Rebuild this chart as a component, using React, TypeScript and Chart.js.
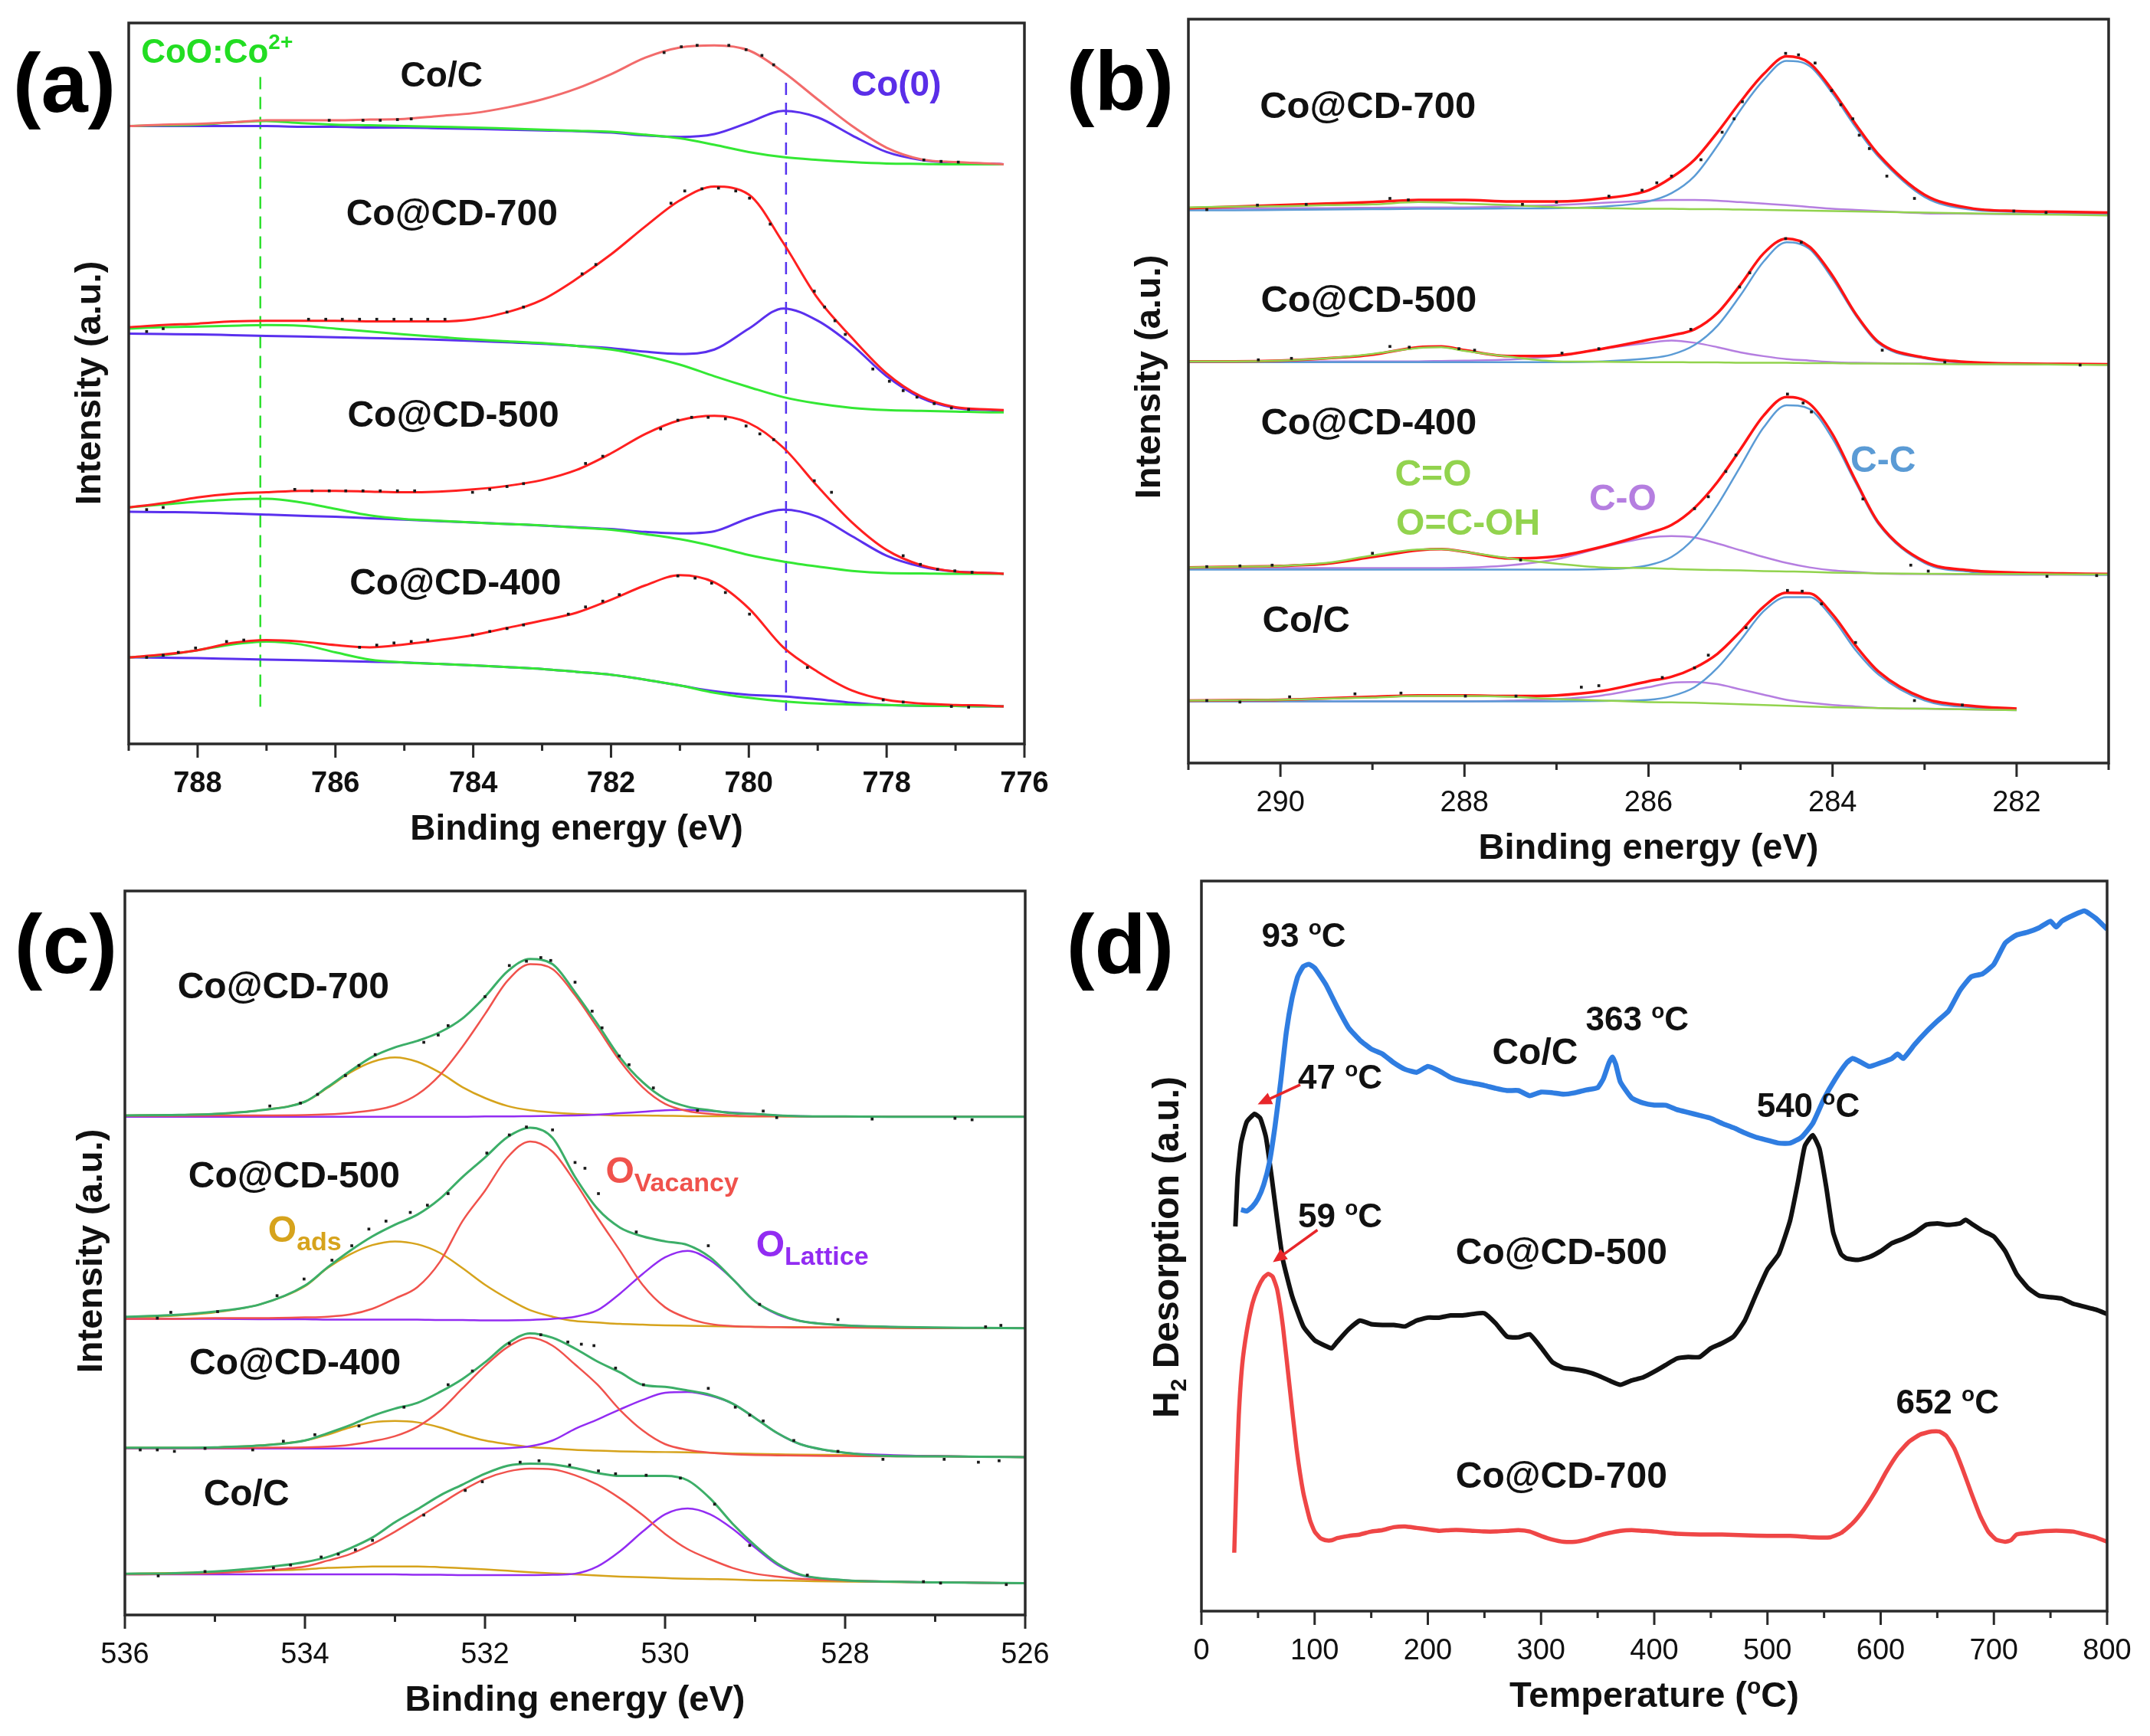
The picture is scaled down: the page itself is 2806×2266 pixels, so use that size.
import React, { useEffect, useRef } from 'react';
import { Chart, registerables } from 'chart.js';

Chart.register(...registerables);

const FONT = '"Liberation Sans", Arial, Helvetica, sans-serif';

/* ================= (a) Co 2p ================= */
const aEnergy = [789, 788.5, 788, 787.5, 787, 786.5, 786, 785.5, 785, 784.5, 784, 783.5, 783, 782.5, 782, 781.5, 781, 780.5, 780, 779.5, 779, 778.5, 778, 777.5, 777, 776.5, 776.3];
const aCoC_fit = [85.7, 85.9, 86.0, 86.2, 86.5, 86.5, 86.5, 86.6, 86.7, 87.1, 87.5, 88.3, 89.4, 90.9, 92.9, 95.2, 96.6, 96.9, 96.2, 93.2, 89.4, 85.7, 82.7, 81.1, 80.7, 80.5, 80.4];
const aCoC_co0 = [85.7, 85.7, 85.7, 85.7, 85.7, 85.6, 85.6, 85.5, 85.5, 85.4, 85.3, 85.2, 85.1, 85.0, 84.8, 84.4, 84.2, 84.6, 86.2, 87.8, 86.9, 84.4, 82.1, 81.0, 80.6, 80.5, 80.4];
const aCoC_co2 = [85.7, 85.8, 85.9, 86.2, 86.4, 86.1, 85.9, 85.8, 85.7, 85.6, 85.5, 85.35, 85.2, 85.05, 84.9, 84.5, 84.0, 83.1, 82.1, 81.4, 81.0, 80.7, 80.5, 80.45, 80.4, 80.4, 80.4];
const aCD700_fit = [57.8, 58.1, 58.3, 58.6, 58.7, 58.7, 58.7, 58.6, 58.6, 58.6, 58.9, 59.9, 61.6, 64.5, 67.9, 71.8, 75.4, 77.3, 76.2, 69.5, 61.8, 56.3, 51.4, 48.2, 46.7, 46.4, 46.3];
const aCD700_co0 = [56.9, 56.85, 56.8, 56.7, 56.6, 56.5, 56.4, 56.3, 56.2, 56.05, 55.9, 55.7, 55.5, 55.2, 54.9, 54.4, 54.1, 54.7, 57.6, 60.4, 58.7, 55.3, 51.0, 48.0, 46.6, 46.3, 46.2];
const aCD700_co2 = [57.6, 57.8, 57.9, 58.0, 58.1, 58.0, 57.6, 57.2, 56.8, 56.45, 56.1, 55.85, 55.6, 55.2, 54.7, 53.8, 52.6, 51.0, 49.5, 48.1, 47.2, 46.6, 46.3, 46.2, 46.1, 46.0, 46.0];
const aCD500_fit = [32.8, 33.4, 34.2, 34.7, 34.9, 35.1, 35.1, 35.0, 34.9, 35.0, 35.3, 35.8, 36.6, 38.0, 40.3, 43.0, 44.9, 45.5, 44.5, 41.1, 35.7, 30.7, 26.9, 24.8, 23.9, 23.7, 23.6];
const aCD500_co0 = [32.2, 32.15, 32.1, 31.95, 31.8, 31.65, 31.5, 31.3, 31.1, 30.9, 30.7, 30.5, 30.3, 30.05, 29.8, 29.4, 29.2, 29.5, 31.3, 32.5, 31.5, 28.8, 26.1, 24.6, 23.9, 23.7, 23.6];
const aCD500_co2 = [32.8, 33.2, 33.6, 33.9, 34.0, 33.5, 32.6, 31.7, 31.2, 30.95, 30.7, 30.5, 30.3, 30.0, 29.7, 29.1, 28.4, 27.4, 26.2, 25.3, 24.6, 24.0, 23.7, 23.65, 23.6, 23.6, 23.6];
const aCD400_fit = [12.0, 12.4, 13.0, 14.0, 14.4, 14.2, 13.7, 13.4, 13.8, 14.4, 15.1, 16.1, 17.1, 18.2, 20.0, 22.0, 23.4, 22.4, 18.8, 13.4, 10.0, 7.4, 6.1, 5.6, 5.4, 5.3, 5.2];
const aCD400_co0 = [12.0, 11.95, 11.9, 11.8, 11.7, 11.6, 11.5, 11.4, 11.3, 11.1, 10.9, 10.65, 10.4, 10.0, 9.6, 8.9, 8.1, 7.3, 6.8, 6.6, 6.2, 5.7, 5.4, 5.3, 5.25, 5.2, 5.2];
const aCD400_co2 = [12.0, 12.3, 13.0, 13.8, 14.2, 13.8, 12.7, 11.7, 11.3, 11.1, 10.9, 10.65, 10.4, 10.0, 9.6, 8.9, 8.1, 7.1, 6.4, 5.9, 5.6, 5.45, 5.4, 5.3, 5.25, 5.2, 5.2];
const aCoC_dots = [[786.09, 86.5], [785.6, 86.5], [785.35, 86.5], [785.1, 86.6], [784.9, 86.7], [781.23, 95.9], [780.98, 96.7], [780.75, 96.9], [780.29, 96.9], [780.04, 96.3], [779.81, 95.5], [779.64, 94.2], [777.46, 81.0], [777.21, 80.8], [776.96, 80.7]];
const aCD700_dots = [[788.74, 57.2], [788.5, 57.6], [786.39, 58.9], [786.14, 58.9], [785.9, 58.9], [785.65, 58.9], [785.4, 58.9], [785.15, 58.9], [784.9, 58.9], [784.66, 58.9], [784.41, 58.9], [783.51, 59.9], [783.27, 60.6], [782.42, 65.2], [782.22, 66.5], [781.13, 75.0], [780.93, 76.7], [780.68, 77.0], [780.44, 77.1], [780.19, 76.7], [779.99, 75.7], [779.69, 72.1], [779.05, 62.8], [778.9, 60.6], [778.75, 58.7], [778.6, 56.8], [778.2, 52.0], [777.96, 50.3], [777.76, 49.0], [777.56, 48.1], [777.31, 47.2], [777.06, 46.6], [776.81, 46.4]];
const aCD500_dots = [[788.74, 32.5], [788.5, 32.8], [786.59, 35.3], [786.34, 35.1], [786.09, 35.1], [785.85, 35.1], [785.6, 35.1], [785.35, 35.1], [785.1, 35.1], [784.85, 35.1], [784.01, 34.9], [783.76, 35.3], [783.51, 35.7], [783.27, 36.1], [782.37, 38.9], [782.12, 39.9], [781.28, 43.7], [781.03, 44.9], [780.83, 45.3], [780.59, 45.3], [780.34, 45.1], [780.04, 44.1], [779.84, 43.0], [779.64, 42.2], [779.05, 36.5], [778.8, 34.9], [777.76, 26.1], [777.51, 24.9], [777.26, 24.2], [777.01, 24.0], [776.76, 23.8]];
const aCD400_dots = [[788.74, 12.0], [788.5, 12.3], [788.28, 12.7], [788.03, 13.3], [787.58, 14.2], [787.33, 14.4], [785.65, 13.4], [785.4, 13.7], [785.15, 14.0], [784.9, 14.2], [784.66, 14.4], [784.01, 15.1], [783.76, 15.6], [783.51, 16.0], [783.27, 16.5], [782.62, 18.0], [782.37, 19.0], [782.12, 19.8], [781.88, 20.7], [781.03, 23.3], [780.78, 23.0], [780.54, 22.3], [780.34, 21.0], [779.99, 18.0], [779.15, 10.6], [778.05, 6.1], [777.76, 5.8], [777.06, 5.2], [776.81, 5.1]];
const aRefEnergies = [787.09, 779.46];
const aRefSpanCo2 = [92.5, 5.1];
const aRefSpanCo0 = [91.7, 4.6];
const aMajorTicks = [788, 786, 784, 782, 780, 778, 776];
const aMinorTicks = [789, 787, 785, 783, 781, 779, 777];

/* ================= (b) C 1s ================= */
const bEnergy = [291, 290.5, 290, 289.5, 289, 288.5, 288.25, 288, 287.5, 287, 286.5, 286, 285.75, 285.5, 285.25, 285, 284.75, 284.5, 284.25, 284, 283.75, 283.5, 283, 282.5, 282, 281.5, 281];
const bCD700_fit = [74.6, 74.8, 75.0, 75.2, 75.4, 75.7, 75.7, 75.7, 75.5, 75.5, 75.9, 77.0, 78.7, 81.1, 84.8, 88.9, 92.6, 95.0, 94.1, 90.4, 85.9, 81.8, 76.4, 74.6, 74.2, 74.1, 74.0];
const bCD700_cc = [74.3, 74.3, 74.35, 74.4, 74.45, 74.5, 74.5, 74.5, 74.55, 74.6, 74.8, 75.5, 76.6, 78.9, 83.0, 87.8, 91.8, 94.4, 93.7, 90.0, 85.5, 81.5, 76.1, 74.4, 74.1, 74.0, 73.9];
const bCD700_co = [74.5, 74.55, 74.6, 74.6, 74.65, 74.7, 74.7, 74.7, 74.85, 75.0, 75.3, 75.6, 75.7, 75.7, 75.6, 75.4, 75.2, 75.0, 74.75, 74.5, 74.35, 74.2, 73.9, 73.85, 73.8, 73.8, 73.8];
const bCD700_coo = [74.7, 74.8, 74.85, 75.0, 75.1, 75.4, 75.35, 75.2, 75.0, 74.7, 74.6, 74.5, 74.5, 74.45, 74.45, 74.4, 74.35, 74.3, 74.25, 74.2, 74.15, 74.1, 74.0, 73.9, 73.8, 73.7, 73.6];
const bCD500_fit = [54.0, 54.0, 54.1, 54.4, 54.9, 55.9, 56.0, 55.5, 54.7, 54.8, 55.7, 56.9, 57.5, 58.3, 60.5, 64.3, 68.5, 70.5, 69.4, 65.5, 60.4, 56.6, 54.5, 53.9, 53.7, 53.65, 53.6];
const bCD500_cc = [53.9, 53.9, 53.9, 53.9, 53.9, 53.9, 53.9, 53.9, 53.9, 53.9, 54.0, 54.4, 54.9, 56.2, 58.8, 62.9, 67.4, 70.0, 69.1, 65.1, 60.2, 56.4, 54.4, 53.8, 53.7, 53.6, 53.6];
const bCD500_co = [54.0, 54.0, 54.0, 54.0, 54.0, 54.0, 54.05, 54.1, 54.25, 54.7, 55.7, 56.5, 56.8, 56.5, 55.9, 55.2, 54.7, 54.3, 54.1, 53.9, 53.8, 53.75, 53.7, 53.65, 53.6, 53.6, 53.6];
const bCD500_coo = [54.0, 54.0, 54.1, 54.4, 55.0, 55.8, 55.9, 55.4, 54.6, 54.0, 53.95, 53.9, 53.9, 53.85, 53.85, 53.8, 53.8, 53.8, 53.75, 53.75, 53.7, 53.7, 53.65, 53.6, 53.6, 53.55, 53.5];
const bCD400_fit = [26.3, 26.4, 26.5, 26.8, 27.7, 28.6, 28.75, 28.4, 27.5, 27.8, 29.1, 30.9, 32.0, 34.3, 37.8, 42.2, 46.7, 49.2, 48.3, 44.2, 38.0, 32.3, 27.1, 25.9, 25.6, 25.5, 25.4];
const bCD400_cc = [26.0, 26.0, 26.0, 26.0, 26.0, 26.0, 26.0, 26.0, 26.0, 26.0, 26.05, 26.6, 27.7, 30.3, 34.7, 39.9, 45.1, 48.1, 47.6, 43.6, 37.7, 32.1, 26.9, 25.7, 25.4, 25.35, 25.3];
const bCD400_co = [26.2, 26.2, 26.2, 26.2, 26.2, 26.2, 26.2, 26.25, 26.6, 27.4, 29.0, 30.3, 30.5, 30.3, 29.5, 28.6, 27.7, 26.9, 26.3, 25.9, 25.7, 25.5, 25.4, 25.35, 25.3, 25.3, 25.3];
const bCD400_coo = [26.3, 26.4, 26.5, 26.9, 27.9, 28.7, 28.75, 28.4, 27.5, 26.8, 26.3, 26.2, 26.1, 26.0, 25.95, 25.9, 25.8, 25.75, 25.7, 25.6, 25.55, 25.5, 25.45, 25.4, 25.4, 25.35, 25.35];
const bCoC_fit = [8.4, 8.45, 8.5, 8.7, 8.9, 9.1, 9.1, 9.1, 9.0, 9.1, 9.7, 11.0, 11.6, 12.8, 14.7, 17.7, 21.0, 22.9, 22.8, 20.0, 15.8, 12.3, 8.7, 7.7, 7.3, null, null];
const bCoC_cc = [8.3, 8.3, 8.3, 8.3, 8.3, 8.3, 8.3, 8.3, 8.3, 8.3, 8.35, 8.5, 9.0, 10.2, 12.8, 16.5, 20.4, 22.3, 22.3, 19.5, 15.2, 11.9, 8.4, 7.5, 7.2, null, null];
const bCoC_co = [8.3, 8.3, 8.3, 8.3, 8.3, 8.3, 8.3, 8.3, 8.4, 8.6, 9.1, 10.2, 10.8, 10.9, 10.6, 9.9, 9.2, 8.5, 8.1, 7.8, 7.6, 7.4, 7.3, 7.2, 7.1, null, null];
const bCoC_coo = [8.4, 8.45, 8.5, 8.65, 8.8, 9.0, 9.0, 9.0, 8.9, 8.6, 8.4, 8.2, 8.15, 8.1, 8.0, 7.9, 7.8, 7.7, 7.6, 7.5, 7.45, 7.4, 7.3, 7.2, 7.1, null, null];
const bCD700_dots = [[290.8, 74.4], [290.25, 75.0], [289.72, 75.1], [288.81, 75.9], [288.61, 75.7], [287.37, 75.1], [287.0, 75.4], [286.43, 76.2], [286.07, 77.0], [285.91, 78.0], [285.75, 78.9], [285.43, 81.1], [285.2, 84.8], [285.07, 86.6], [284.98, 88.9], [284.51, 95.4], [284.37, 95.2], [284.19, 94.1], [284.01, 90.4], [283.91, 88.5], [283.78, 86.6], [283.71, 84.4], [283.6, 82.6], [283.41, 78.9], [283.11, 75.9], [282.03, 74.2], [281.68, 74.0]];
const bCD500_dots = [[290.24, 54.2], [289.88, 54.4], [288.81, 56.0], [288.6, 55.9], [288.06, 55.7], [287.89, 55.5], [286.94, 55.1], [286.54, 55.7], [285.54, 58.3], [285.01, 64.0], [284.9, 65.9], [284.51, 70.5], [284.34, 70.0], [283.46, 55.5], [282.78, 53.9], [281.31, 53.5]];
const bCD400_dots = [[290.8, 26.4], [290.44, 26.5], [290.09, 26.6], [289.0, 28.2], [287.39, 27.3], [285.5, 34.2], [285.35, 35.8], [285.16, 39.2], [285.05, 41.4], [284.49, 49.6], [284.32, 48.4], [284.23, 47.2], [283.67, 35.5], [283.15, 26.6], [282.96, 25.8], [281.67, 25.1], [281.13, 25.2]];
const bCoC_dots = [[290.8, 8.4], [290.44, 8.2], [289.9, 8.9], [289.19, 9.3], [288.69, 9.4], [287.99, 9.0], [287.44, 9.0], [286.73, 10.2], [286.54, 10.4], [285.85, 11.5], [285.5, 12.8], [285.35, 14.5], [284.94, 18.2], [284.49, 23.2], [284.33, 23.1], [284.12, 21.4], [283.75, 16.2], [283.11, 8.4], [282.59, 7.8]];
const bMajorTicks = [290, 288, 286, 284, 282];
const bMinorTicks = [291, 289, 287, 285, 283, 281];

/* ================= (c) O 1s ================= */
const cEnergy = [536, 535.5, 535, 534.5, 534, 533.75, 533.5, 533.25, 533, 532.75, 532.5, 532.25, 532, 531.75, 531.5, 531.25, 531, 530.75, 530.5, 530.25, 530, 529.75, 529.5, 529.25, 529, 528.75, 528.5, 528, 527.5, 527, 526.5, 526];
const cCD700_fit = [69.0, 69.05, 69.2, 69.7, 70.9, 72.9, 75.1, 77.1, 78.4, 79.3, 80.5, 82.4, 85.4, 88.9, 90.6, 89.9, 86.0, 81.6, 77.0, 73.6, 71.3, 70.2, 69.7, 69.3, 69.2, 69.0, 68.9, 68.85, 68.8, 68.8, 68.8, 68.8];
const cCD700_vac = [68.95, 68.95, 69.0, 69.0, 69.05, 69.15, 69.35, 69.7, 70.4, 71.9, 74.6, 78.5, 83.0, 87.6, 89.9, 89.2, 85.6, 81.1, 76.5, 72.9, 70.6, 69.6, 69.2, 69.0, 68.9, 68.9, 68.85, 68.85, 68.8, 68.8, 68.8, 68.8];
const cCD700_ads = [69.0, 69.05, 69.2, 69.7, 70.9, 72.8, 74.9, 76.4, 77.0, 76.4, 74.9, 72.9, 71.4, 70.3, 69.7, 69.4, 69.2, 69.1, 69.0, 69.0, 68.95, 68.9, 68.9, 68.9, 68.85, 68.85, 68.85, 68.8, 68.8, 68.8, 68.8, 68.8];
const cCD700_lat = [68.8, 68.8, 68.8, 68.8, 68.8, 68.8, 68.8, 68.8, 68.8, 68.8, 68.8, 68.8, 68.85, 68.85, 68.9, 68.95, 69.0, 69.1, 69.3, 69.5, 69.7, 69.75, 69.6, 69.4, 69.2, 69.0, 68.9, 68.85, 68.8, 68.8, 68.8, 68.8];
const cCD500_fit = [41.2, 41.4, 41.9, 42.9, 45.5, 48.0, 50.3, 52.3, 53.9, 55.3, 57.5, 60.5, 63.2, 66.0, 67.3, 65.9, 60.5, 56.1, 53.5, 52.3, 51.6, 51.1, 49.4, 46.4, 43.3, 41.6, 40.6, 40.0, 39.8, 39.7, 39.65, 39.6];
const cCD500_vac = [40.9, 40.9, 41.0, 41.0, 41.1, 41.2, 41.5, 42.3, 43.7, 45.3, 48.8, 54.4, 58.6, 63.2, 65.4, 64.0, 59.8, 54.9, 50.3, 45.6, 42.5, 41.0, 40.2, 39.9, 39.8, 39.75, 39.7, 39.7, 39.65, 39.6, 39.6, 39.6];
const cCD500_ads = [41.1, 41.3, 41.8, 42.9, 45.4, 47.9, 49.8, 51.1, 51.6, 51.2, 50.0, 47.9, 45.6, 43.7, 42.1, 41.2, 40.6, 40.4, 40.2, 40.1, 40.0, 39.95, 39.9, 39.85, 39.8, 39.75, 39.75, 39.7, 39.65, 39.6, 39.6, 39.6];
const cCD500_lat = [40.9, 40.9, 40.9, 40.85, 40.85, 40.8, 40.8, 40.8, 40.8, 40.8, 40.75, 40.75, 40.7, 40.7, 40.75, 40.9, 41.2, 42.1, 44.4, 47.1, 49.4, 50.3, 49.0, 46.4, 43.3, 41.5, 40.6, 40.0, 39.8, 39.65, 39.6, 39.6];
const cCD400_fit = [23.1, 23.1, 23.15, 23.4, 24.1, 25.1, 26.2, 27.5, 28.5, 29.3, 30.8, 32.6, 34.9, 37.5, 38.9, 38.3, 36.8, 35.0, 33.5, 31.8, 31.5, 31.0, 30.4, 29.2, 27.2, 25.1, 23.6, 22.4, 21.95, 21.9, 21.85, 21.8];
const cCD400_vac = [23.05, 23.05, 23.05, 23.1, 23.15, 23.25, 23.5, 24.0, 24.7, 26.0, 28.2, 31.3, 34.4, 37.0, 38.3, 37.2, 34.6, 31.8, 28.3, 25.5, 23.6, 22.8, 22.4, 22.2, 22.1, 22.05, 22.0, 21.95, 21.9, 21.9, 21.85, 21.8];
const cCD400_ads = [23.1, 23.1, 23.15, 23.4, 24.1, 24.9, 25.9, 26.6, 26.8, 26.6, 25.9, 24.9, 24.1, 23.6, 23.2, 23.0, 22.8, 22.7, 22.6, 22.55, 22.5, 22.45, 22.4, 22.3, 22.25, 22.2, 22.15, 22.1, 22.0, 21.95, 21.85, 21.8];
const cCD400_lat = [23.0, 23.0, 23.0, 23.0, 23.0, 23.0, 23.0, 23.0, 23.0, 23.0, 23.0, 23.0, 23.0, 23.05, 23.3, 24.1, 25.7, 27.0, 28.4, 29.7, 30.7, 30.8, 30.3, 29.2, 27.2, 25.1, 23.6, 22.4, 22.1, 21.95, 21.85, 21.8];
const cCoC_fit = [5.7, 5.75, 6.0, 6.5, 7.3, 8.0, 9.2, 10.7, 12.8, 14.6, 16.5, 18.0, 19.5, 20.6, 20.9, 20.8, 20.3, 19.6, 19.2, 19.2, 19.2, 18.6, 16.1, 12.6, 9.6, 7.1, 5.6, 4.8, 4.6, 4.5, 4.45, 4.4];
const cCoC_vac = [5.6, 5.65, 5.8, 6.1, 6.7, 7.5, 8.4, 9.8, 11.5, 13.4, 15.3, 17.2, 18.8, 19.8, 20.2, 20.1, 19.3, 18.0, 16.1, 13.8, 11.2, 9.1, 7.7, 6.5, 5.7, 5.3, 5.0, 4.75, 4.6, 4.5, 4.45, 4.4];
const cCoC_ads = [5.7, 5.8, 5.9, 6.1, 6.3, 6.5, 6.6, 6.7, 6.7, 6.7, 6.6, 6.45, 6.3, 6.1, 5.9, 5.75, 5.6, 5.45, 5.3, 5.2, 5.1, 5.0, 4.95, 4.9, 4.8, 4.75, 4.7, 4.6, 4.55, 4.5, 4.45, 4.4];
const cCoC_lat = [5.6, 5.6, 5.6, 5.6, 5.6, 5.6, 5.6, 5.6, 5.6, 5.55, 5.55, 5.5, 5.5, 5.5, 5.5, 5.55, 5.7, 6.7, 8.8, 11.5, 13.9, 14.7, 13.9, 11.9, 9.3, 6.9, 5.5, 4.8, 4.6, 4.5, 4.45, 4.4];
const cCD700_dots = [[534.39, 70.3], [534.05, 70.7], [533.86, 71.9], [533.55, 74.5], [533.4, 75.9], [533.22, 77.4], [532.68, 79.1], [532.52, 80.1], [532.41, 81.4], [532.0, 85.4], [531.73, 89.7], [531.54, 90.3], [531.38, 90.8], [531.27, 90.4], [531.0, 87.4], [530.81, 83.4], [530.7, 81.1], [530.51, 77.2], [530.4, 76.0], [530.13, 72.8], [529.64, 69.7], [528.91, 69.6], [528.76, 68.7], [527.7, 68.5], [526.78, 68.6], [526.59, 68.4]];
const cCD500_dots = [[535.64, 41.0], [535.49, 41.8], [534.97, 41.9], [534.31, 44.1], [534.01, 46.4], [533.7, 49.0], [533.48, 51.0], [533.29, 53.3], [533.1, 54.4], [532.83, 55.6], [532.64, 56.6], [532.41, 58.2], [531.98, 63.8], [531.73, 66.3], [531.54, 67.4], [531.25, 67.0], [531.0, 62.5], [530.89, 61.7], [530.74, 58.2], [530.32, 52.9], [529.52, 51.0], [528.95, 42.9], [528.08, 40.8], [526.44, 39.8], [526.27, 40.0]];
const cCD400_dots = [[535.83, 22.8], [535.64, 22.8], [535.45, 22.6], [535.11, 23.0], [534.58, 22.8], [534.24, 24.0], [533.89, 24.9], [533.4, 26.1], [532.9, 28.7], [532.41, 31.8], [532.14, 33.7], [531.73, 37.5], [531.38, 38.7], [531.08, 37.7], [530.93, 37.4], [530.79, 37.2], [530.55, 34.1], [530.24, 31.8], [529.52, 31.3], [529.22, 28.7], [529.06, 27.6], [528.91, 26.8], [528.57, 24.1], [528.08, 22.6], [527.58, 21.5], [526.9, 21.5], [526.52, 21.1], [526.29, 21.3]];
const cCoC_dots = [[535.63, 5.4], [535.11, 6.0], [534.35, 6.5], [534.16, 6.9], [533.82, 8.0], [533.63, 8.4], [533.44, 9.0], [533.25, 10.3], [532.68, 13.8], [532.22, 17.2], [532.03, 18.4], [531.61, 21.1], [531.4, 21.3], [531.06, 20.7], [530.74, 19.9], [530.55, 19.5], [530.21, 19.3], [529.83, 18.9], [529.45, 15.3], [529.06, 9.6], [528.42, 5.5], [527.13, 4.6], [526.94, 4.4], [526.21, 4.2]];
const cMajorTicks = [536, 534, 532, 530, 528, 526];
const cMinorTicks = [535, 533, 531, 529, 527];

/* ================= (d) H2-TPD ================= */
const dCoC_T = [35, 40, 45, 50, 55, 60, 65, 70, 75, 80, 85, 90, 95, 100, 110, 120, 130, 140, 150, 160, 170, 180, 190, 200, 210, 220, 230, 240, 250, 260, 270, 280, 290, 300, 310, 320, 330, 340, 350, 355, 360, 363, 366, 370, 380, 390, 400, 410, 420, 430, 440, 450, 460, 470, 480, 490, 500, 510, 520, 530, 540, 550, 560, 570, 575, 580, 590, 600, 610, 615, 620, 630, 640, 650, 660, 670, 680, 690, 700, 710, 720, 730, 740, 750, 755, 760, 770, 780, 790, 800];
const dCoC_I = [55.0, 54.8, 55.4, 56.5, 58.4, 61.4, 66.4, 72.5, 79.3, 83.9, 86.9, 88.3, 88.6, 88.1, 85.8, 82.7, 79.9, 78.2, 77.0, 76.3, 75.1, 74.2, 73.8, 74.6, 74.0, 73.1, 72.6, 72.3, 72.0, 71.6, 71.3, 71.3, 70.6, 71.1, 71.0, 70.8, 71.0, 71.4, 71.7, 72.9, 75.1, 75.9, 74.9, 72.5, 70.3, 69.6, 69.3, 69.3, 68.7, 68.3, 67.9, 67.5, 66.8, 66.2, 65.5, 64.9, 64.5, 64.1, 64.1, 64.9, 66.8, 70.2, 72.9, 75.1, 75.7, 75.4, 74.6, 75.1, 75.7, 76.3, 75.7, 77.6, 79.3, 80.8, 82.2, 85.0, 86.9, 87.3, 88.6, 91.5, 92.6, 93.0, 93.6, 94.5, 93.7, 94.5, 95.3, 95.9, 94.9, 93.4];
const dCD500_T = [30, 32, 35, 40, 47, 52, 57, 62, 67, 72, 80, 90, 100, 110, 115, 120, 130, 140, 150, 160, 170, 180, 190, 200, 210, 220, 230, 240, 250, 260, 270, 280, 290, 300, 310, 320, 330, 340, 350, 360, 370, 380, 390, 400, 410, 420, 430, 440, 450, 460, 470, 480, 490, 500, 510, 520, 527, 533, 540, 546, 552, 558, 565, 570, 580, 590, 600, 610, 620, 630, 640, 650, 660, 670, 675, 680, 690, 700, 710, 720, 730, 740, 750, 760, 770, 780, 790, 800];
const dCD500_I = [52.7, 59.5, 64.1, 67.0, 68.1, 67.5, 64.9, 59.5, 53.5, 48.1, 43.2, 39.0, 37.1, 36.3, 36.0, 36.9, 38.6, 39.8, 39.3, 39.2, 39.2, 39.0, 39.8, 40.2, 40.2, 40.5, 40.5, 40.7, 40.8, 39.4, 37.6, 37.5, 37.9, 36.1, 34.1, 33.3, 33.1, 32.8, 32.3, 31.6, 31.0, 31.6, 32.0, 32.8, 33.7, 34.6, 34.8, 34.8, 36.0, 36.7, 37.6, 39.8, 43.4, 46.8, 48.9, 53.5, 58.8, 63.7, 65.2, 63.3, 58.0, 51.9, 48.9, 48.3, 48.1, 48.5, 49.3, 50.4, 51.0, 51.8, 52.9, 53.1, 52.9, 53.1, 53.6, 53.1, 52.1, 51.3, 49.3, 46.2, 44.3, 43.2, 43.0, 42.8, 42.1, 41.7, 41.3, 40.7];
const dCD700_T = [29, 31, 33, 36, 40, 45, 50, 55, 59, 63, 67, 72, 78, 84, 90, 96, 100, 105, 110, 115, 120, 130, 140, 150, 160, 170, 180, 190, 200, 210, 220, 230, 240, 250, 260, 270, 280, 290, 300, 310, 320, 330, 340, 350, 360, 370, 380, 390, 400, 420, 440, 460, 480, 500, 520, 540, 555, 565, 575, 585, 595, 605, 615, 625, 635, 645, 652, 658, 665, 672, 680, 688, 695, 702, 710, 715, 720, 730, 740, 750, 760, 770, 780, 790, 800];
const dCD700_I = [8.0, 18.5, 26.8, 33.7, 38.3, 42.1, 44.3, 45.7, 46.2, 45.8, 44.0, 39.0, 30.6, 22.3, 16.2, 12.4, 10.9, 10.0, 9.7, 9.7, 10.0, 10.3, 10.5, 10.9, 11.1, 11.5, 11.6, 11.4, 11.2, 11.0, 11.1, 11.1, 11.0, 10.9, 10.9, 11.0, 11.1, 10.9, 10.3, 9.8, 9.5, 9.5, 9.8, 10.3, 10.7, 11.0, 11.1, 11.0, 10.9, 10.6, 10.5, 10.5, 10.4, 10.3, 10.3, 10.1, 10.1, 10.7, 12.0, 13.9, 16.3, 19.1, 21.5, 23.2, 24.2, 24.6, 24.6, 24.0, 22.3, 19.6, 16.2, 13.0, 10.9, 9.8, 9.5, 9.7, 10.5, 10.7, 10.9, 11.0, 11.0, 10.9, 10.5, 10.1, 9.5];
const dMajorTicks = [0, 100, 200, 300, 400, 500, 600, 700, 800];
const dMinorTicks = [50, 150, 250, 350, 450, 550, 650, 750];

/* ================= helpers ================= */
type Part = { t: string; size: number; dy?: number };

function drawRich(ctx: any, parts: Part[], x: number, y: number, align: string, color: string) {
  ctx.save();
  ctx.fillStyle = color;
  ctx.textBaseline = 'alphabetic';
  ctx.textAlign = 'left';
  let total = 0;
  const widths = parts.map((p) => {
    ctx.font = `bold ${p.size}px ${FONT}`;
    const w = ctx.measureText(p.t).width;
    total += w;
    return w;
  });
  let cx = align === 'center' ? x - total / 2 : align === 'right' ? x - total : x;
  parts.forEach((p, i) => {
    ctx.font = `bold ${p.size}px ${FONT}`;
    ctx.fillText(p.t, cx, y + (p.dy || 0));
    cx += widths[i];
  });
  ctx.restore();
}

function line(xs: number[], ys: (number | null)[], color: string, width: number, extra: any = {}) {
  return {
    data: xs.map((x, i) => ({ x, y: ys[i] })),
    borderColor: color,
    backgroundColor: color,
    borderWidth: width,
    pointRadius: 0,
    fill: false,
    cubicInterpolationMode: 'monotone',
    ...extra,
  };
}

function dots(pairs: number[][]) {
  return {
    data: pairs.map(([x, y]) => ({ x, y })),
    showLine: false,
    pointRadius: 2.6,
    pointStyle: 'rect',
    pointBackgroundColor: '#1a1a1a',
    pointBorderWidth: 0,
    borderColor: '#1a1a1a',
  };
}

function decorPlugin(cfg: any) {
  return {
    id: 'decor',
    afterDraw(chart: any) {
      const ctx = chart.ctx;
      const { left, right, top, bottom } = chart.chartArea;
      const xs = chart.scales.x;
      const ys = chart.scales.y;
      const ox = cfg.canvas.x;
      const oy = cfg.canvas.y;
      ctx.save();
      ctx.strokeStyle = '#2a2a2a';
      ctx.lineWidth = 3.5;
      ctx.strokeRect(left, top, right - left, bottom - top);
      ctx.lineWidth = 3;
      ctx.beginPath();
      cfg.majors.forEach((v: number) => {
        const px = xs.getPixelForValue(v);
        ctx.moveTo(px, bottom);
        ctx.lineTo(px, bottom + 18);
      });
      cfg.minors.forEach((v: number) => {
        const px = xs.getPixelForValue(v);
        ctx.moveTo(px, bottom);
        ctx.lineTo(px, bottom + 9);
      });
      ctx.stroke();
      ctx.fillStyle = '#111';
      ctx.font = `${cfg.tickBold ? 'bold ' : ''}38px ${FONT}`;
      ctx.textAlign = 'center';
      ctx.textBaseline = 'alphabetic';
      cfg.majors.forEach((v: number) => ctx.fillText(String(v), xs.getPixelForValue(v), bottom + 63));
      drawRich(ctx, cfg.xTitle, (left + right) / 2, bottom + 125, 'center', '#111');
      ctx.save();
      ctx.translate(cfg.yTitlePos[0] - ox, cfg.yTitlePos[1] - oy);
      ctx.rotate(-Math.PI / 2);
      drawRich(ctx, cfg.yTitle, 0, 0.358 * cfg.yTitle[0].size, 'center', '#111');
      ctx.restore();
      ctx.font = `bold 110px ${FONT}`;
      ctx.textAlign = 'center';
      ctx.textBaseline = 'alphabetic';
      ctx.fillStyle = '#000';
      ctx.fillText(cfg.letter, cfg.letterPos[0] - ox, cfg.letterPos[1] - oy);
      cfg.notes.forEach((n: any) => {
        const px = xs.getPixelForValue(n.x);
        const py = ys.getPixelForValue(n.y);
        drawRich(ctx, n.parts, px, py + 0.358 * n.parts[0].size, n.align || 'center', n.color);
      });
      (cfg.arrows || []).forEach((a: any) => {
        const x1 = xs.getPixelForValue(a.from[0]);
        const y1 = ys.getPixelForValue(a.from[1]);
        const x2 = xs.getPixelForValue(a.to[0]);
        const y2 = ys.getPixelForValue(a.to[1]);
        const ang = Math.atan2(y2 - y1, x2 - x1);
        const hl = 20;
        ctx.strokeStyle = a.color;
        ctx.fillStyle = a.color;
        ctx.lineWidth = 3.5;
        ctx.beginPath();
        ctx.moveTo(x1, y1);
        ctx.lineTo(x2 - Math.cos(ang) * hl * 0.8, y2 - Math.sin(ang) * hl * 0.8);
        ctx.stroke();
        ctx.beginPath();
        ctx.moveTo(x2, y2);
        ctx.lineTo(x2 - hl * Math.cos(ang - 0.42), y2 - hl * Math.sin(ang - 0.42));
        ctx.lineTo(x2 - hl * Math.cos(ang + 0.42), y2 - hl * Math.sin(ang + 0.42));
        ctx.closePath();
        ctx.fill();
      });
      ctx.restore();
    },
  };
}

const t = (s: string, size: number, dy = 0): Part => ({ t: s, size, dy });
const degLabel = (num: string) => [t(num + ' ', 44), t('o', 28, -16), t('C', 44)];
const intensityTitle = [t('Intensity (a.u.)', 47)];
const bindingTitle = [t('Binding energy (eV)', 46)];

/* colours */
const A_RED = '#ff2020';
const A_RED_LIGHT = '#f26b6b';
const A_BLUE = '#5a30ee';
const A_GREEN = '#34e834';
const B_RED = '#ff1414';
const B_CC = '#5b9bd5';
const B_CO = '#b57ee0';
const B_COO = '#92d34e';
const C_FIT = '#3cae68';
const C_VAC = '#f0524c';
const C_ADS = '#d6a31c';
const C_LAT = '#922cf2';

const panels: any[] = [
  {
    key: 'a',
    canvas: { x: 0, y: 0, w: 1403, h: 1140 },
    area: { l: 168, t: 30, r: 1337, b: 971 },
    xRange: [776, 789], reverse: true,
    majors: aMajorTicks, minors: aMinorTicks, tickBold: true,
    xTitle: bindingTitle, yTitle: intensityTitle, yTitlePos: [114, 500],
    letter: '(a)', letterPos: [84, 146],
    notes: [
      { parts: [t('CoO:Co', 44), t('2+', 28, -18)], x: 788.82, y: 96.2, color: '#22dd22', align: 'left' },
      { parts: [t('Co/C', 46)], x: 784.46, y: 92.9, color: '#111' },
      { parts: [t('Co(0)', 46)], x: 777.86, y: 91.7, color: '#5a2ee8' },
      { parts: [t('Co@CD-700', 48)], x: 784.31, y: 73.8, color: '#111' },
      { parts: [t('Co@CD-500', 48)], x: 784.29, y: 45.8, color: '#111' },
      { parts: [t('Co@CD-400', 48)], x: 784.26, y: 22.6, color: '#111' },
    ],
    datasets: [
      dots(aCoC_dots), dots(aCD700_dots), dots(aCD500_dots), dots(aCD400_dots),
      line(aEnergy, aCoC_fit, A_RED_LIGHT, 3),
      line(aEnergy, aCD700_fit, A_RED, 3),
      line(aEnergy, aCD500_fit, A_RED, 3),
      line(aEnergy, aCD400_fit, A_RED, 3),
      line(aEnergy, aCoC_co2, A_GREEN, 3),
      line(aEnergy, aCD700_co2, A_GREEN, 3),
      line(aEnergy, aCD500_co2, A_GREEN, 3),
      line(aEnergy, aCD400_co2, A_GREEN, 3),
      line(aEnergy, aCoC_co0, A_BLUE, 3),
      line(aEnergy, aCD700_co0, A_BLUE, 3),
      line(aEnergy, aCD500_co0, A_BLUE, 3),
      line(aEnergy, aCD400_co0, A_BLUE, 3),
      line([aRefEnergies[0], aRefEnergies[0]], aRefSpanCo2, '#2ee02e', 2.5, { borderDash: [16, 10], cubicInterpolationMode: 'default', tension: 0 }),
      line([aRefEnergies[1], aRefEnergies[1]], aRefSpanCo0, '#5533ee', 2.5, { borderDash: [16, 10], cubicInterpolationMode: 'default', tension: 0 }),
    ],
  },
  {
    key: 'b',
    canvas: { x: 1380, y: 0, w: 1426, h: 1140 },
    area: { l: 1551, t: 25, r: 2752, b: 996 },
    xRange: [281, 291], reverse: true,
    majors: bMajorTicks, minors: bMinorTicks, tickBold: false,
    xTitle: [t('Binding energy (eV)', 47)], yTitle: intensityTitle, yTitlePos: [1497, 492],
    letter: '(b)', letterPos: [1462, 143],
    notes: [
      { parts: [t('Co@CD-700', 49)], x: 289.05, y: 88.5, color: '#111' },
      { parts: [t('Co@CD-500', 49)], x: 289.04, y: 62.5, color: '#111' },
      { parts: [t('Co@CD-400', 49)], x: 289.04, y: 46.0, color: '#111' },
      { parts: [t('Co/C', 49)], x: 289.72, y: 19.4, color: '#111' },
      { parts: [t('C=O', 48)], x: 288.34, y: 39.0, color: B_COO },
      { parts: [t('O=C-OH', 48)], x: 287.96, y: 32.5, color: B_COO },
      { parts: [t('C-O', 48)], x: 286.28, y: 35.8, color: B_CO },
      { parts: [t('C-C', 48)], x: 283.45, y: 40.9, color: B_CC },
    ],
    datasets: [
      dots(bCD700_dots), dots(bCD500_dots), dots(bCD400_dots), dots(bCoC_dots),
      line(bEnergy, bCD700_coo, B_COO, 2.5),
      line(bEnergy, bCD500_coo, B_COO, 2.5),
      line(bEnergy, bCD400_coo, B_COO, 2.5),
      line(bEnergy, bCoC_coo, B_COO, 2.5),
      line(bEnergy, bCD700_fit, B_RED, 3.5),
      line(bEnergy, bCD500_fit, B_RED, 3.5),
      line(bEnergy, bCD400_fit, B_RED, 3.5),
      line(bEnergy, bCoC_fit, B_RED, 3.5),
      line(bEnergy, bCD700_cc, B_CC, 2.5),
      line(bEnergy, bCD500_cc, B_CC, 2.5),
      line(bEnergy, bCD400_cc, B_CC, 2.5),
      line(bEnergy, bCoC_cc, B_CC, 2.5),
      line(bEnergy, bCD700_co, B_CO, 2.5),
      line(bEnergy, bCD500_co, B_CO, 2.5),
      line(bEnergy, bCD400_co, B_CO, 2.5),
      line(bEnergy, bCoC_co, B_CO, 2.5),
    ],
  },
  {
    key: 'c',
    canvas: { x: 0, y: 1125, w: 1403, h: 1141 },
    area: { l: 163, t: 1163, r: 1338, b: 2108 },
    xRange: [526, 536], reverse: true,
    majors: cMajorTicks, minors: cMinorTicks, tickBold: false,
    xTitle: [t('Binding energy (eV)', 47)], yTitle: intensityTitle, yTitlePos: [116, 1633],
    letter: '(c)', letterPos: [86, 1270],
    notes: [
      { parts: [t('Co@CD-700', 48)], x: 534.24, y: 87.0, color: '#111' },
      { parts: [t('Co@CD-500', 48)], x: 534.12, y: 60.9, color: '#111' },
      { parts: [t('Co@CD-400', 48)], x: 534.11, y: 35.0, color: '#111' },
      { parts: [t('Co/C', 48)], x: 534.65, y: 17.0, color: '#111' },
      { parts: [t('O', 48), t('Vacancy', 34, 11)], x: 530.66, y: 61.5, color: C_VAC, align: 'left' },
      { parts: [t('O', 48), t('ads', 34, 11)], x: 534.41, y: 53.3, color: C_ADS, align: 'left' },
      { parts: [t('O', 48), t('Lattice', 34, 11)], x: 528.99, y: 51.3, color: C_LAT, align: 'left' },
    ],
    datasets: [
      dots(cCD700_dots), dots(cCD500_dots), dots(cCD400_dots), dots(cCoC_dots),
      line(cEnergy, cCD700_fit, C_FIT, 3),
      line(cEnergy, cCD500_fit, C_FIT, 3),
      line(cEnergy, cCD400_fit, C_FIT, 3),
      line(cEnergy, cCoC_fit, C_FIT, 3),
      line(cEnergy, cCD700_vac, C_VAC, 2.5),
      line(cEnergy, cCD500_vac, C_VAC, 2.5),
      line(cEnergy, cCD400_vac, C_VAC, 2.5),
      line(cEnergy, cCoC_vac, C_VAC, 2.5),
      line(cEnergy, cCD700_lat, C_LAT, 2.5),
      line(cEnergy, cCD500_lat, C_LAT, 2.5),
      line(cEnergy, cCD400_lat, C_LAT, 2.5),
      line(cEnergy, cCoC_lat, C_LAT, 2.5),
      line(cEnergy, cCD700_ads, C_ADS, 2.5),
      line(cEnergy, cCD500_ads, C_ADS, 2.5),
      line(cEnergy, cCD400_ads, C_ADS, 2.5),
      line(cEnergy, cCoC_ads, C_ADS, 2.5),
    ],
  },
  {
    key: 'd',
    canvas: { x: 1380, y: 1125, w: 1426, h: 1141 },
    area: { l: 1568, t: 1150, r: 2750, b: 2103 },
    xRange: [0, 800], reverse: false,
    majors: dMajorTicks, minors: dMinorTicks, tickBold: false,
    xTitle: [t('Temperature (', 47), t('o', 30, -17), t('C)', 47)],
    yTitle: [t('H', 48), t('2', 30, 10), t(' Desorption (a.u.)', 48)],
    yTitlePos: [1521, 1628],
    letter: '(d)', letterPos: [1462, 1270],
    notes: [
      { parts: degLabel('93'), x: 90.4, y: 92.6, color: '#111' },
      { parts: degLabel('363'), x: 385, y: 81.2, color: '#111' },
      { parts: [t('Co/C', 48)], x: 294.7, y: 76.7, color: '#111' },
      { parts: degLabel('47'), x: 122.5, y: 73.2, color: '#111' },
      { parts: degLabel('540'), x: 536, y: 69.3, color: '#111' },
      { parts: degLabel('59'), x: 122.5, y: 54.2, color: '#111' },
      { parts: [t('Co@CD-500', 48)], x: 318, y: 49.3, color: '#111' },
      { parts: degLabel('652'), x: 659, y: 28.7, color: '#111' },
      { parts: [t('Co@CD-700', 48)], x: 318, y: 18.7, color: '#111' },
    ],
    arrows: [
      { from: [87.3, 72.1], to: [49.7, 69.4], color: '#e8262a' },
      { from: [102.5, 52.2], to: [63.1, 47.8], color: '#e8262a' },
    ],
    datasets: [
      line(dCoC_T, dCoC_I, '#2f7de1', 6.5, { cubicInterpolationMode: 'default', tension: 0.15 }),
      line(dCD700_T, dCD700_I, '#ef4646', 5.5, { cubicInterpolationMode: 'default', tension: 0.15 }),
      line(dCD500_T, dCD500_I, '#111111', 6, { cubicInterpolationMode: 'default', tension: 0.15 }),
    ],
  },
];

function Panel({ cfg }: { cfg: any }) {
  const ref = useRef<HTMLCanvasElement>(null);
  useEffect(() => {
    const c = cfg.canvas;
    const a = cfg.area;
    const chart = new Chart(ref.current as HTMLCanvasElement, {
      type: 'line',
      data: { datasets: cfg.datasets },
      options: {
        animation: false,
        responsive: false,
        maintainAspectRatio: false,
        devicePixelRatio: 1,
        events: [],
        layout: {
          padding: { left: a.l - c.x, top: a.t - c.y, right: c.x + c.w - a.r, bottom: c.y + c.h - a.b },
        },
        plugins: { legend: { display: false }, tooltip: { enabled: false }, title: { display: false } },
        scales: {
          x: { type: 'linear', min: cfg.xRange[0], max: cfg.xRange[1], reverse: cfg.reverse, display: false },
          y: { type: 'linear', min: 0, max: 100, display: false },
        },
      },
      plugins: [decorPlugin(cfg)],
    } as any);
    return () => chart.destroy();
  }, []);
  const c = cfg.canvas;
  return (
    <canvas
      ref={ref}
      width={c.w}
      height={c.h}
      style={{ position: 'absolute', left: c.x, top: c.y, width: c.w, height: c.h }}
    />
  );
}

export default function App() {
  return (
    <div style={{ position: 'absolute', left: 0, top: 0, width: 2806, height: 2266, background: '#fff', overflow: 'hidden' }}>
      {panels.map((p) => (
        <Panel key={p.key} cfg={p} />
      ))}
    </div>
  );
}
